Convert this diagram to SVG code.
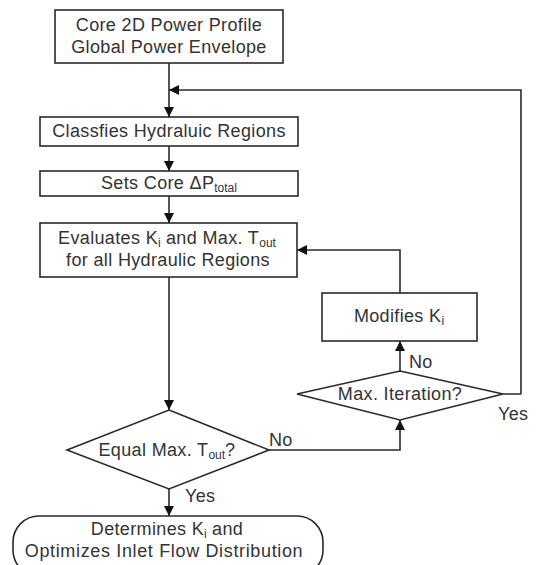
<svg xmlns="http://www.w3.org/2000/svg" width="545" height="565" viewBox="0 0 545 565">
<defs>
<marker id="ah" viewBox="0 0 10 10" refX="10" refY="5" markerWidth="10" markerHeight="10" markerUnits="userSpaceOnUse" orient="auto">
<path d="M0,0 L10,5 L0,10 Z" fill="#111"/>
</marker>
<style>
.box{fill:#fff;stroke:#2a2a2a;stroke-width:1.6}
.ln{fill:none;stroke:#2a2a2a;stroke-width:1.6}
text{font-family:"Liberation Sans",Arial,sans-serif;font-size:18px;fill:#333;letter-spacing:0.35px}
.c{text-anchor:middle}
.sub{font-size:12px;letter-spacing:0}
.wide{letter-spacing:0.65px}
</style>
</defs>
<rect width="545" height="565" fill="#fff"/>
<g id="connectors">
<path class="ln" d="M169,63 V117" marker-end="url(#ah)"/>
<path class="ln" d="M521,394 H503 M521,394 V90 H169" marker-end="url(#ah)"/>
<path class="ln" d="M169,146 V171" marker-end="url(#ah)"/>
<path class="ln" d="M169,196 V223" marker-end="url(#ah)"/>
<path class="ln" d="M169,277 V410" marker-end="url(#ah)"/>
<path class="ln" d="M269,450 H400 V420" marker-end="url(#ah)"/>
<path class="ln" d="M400,371 V341" marker-end="url(#ah)"/>
<path class="ln" d="M400,293 V250 H297" marker-end="url(#ah)"/>
<path class="ln" d="M169,489 V516" marker-end="url(#ah)"/>
</g>
<g id="n1">
<rect class="box" x="55" y="10" width="228" height="53"/>
<text class="c" x="169" y="31">Core 2D Power Profile</text>
<text class="c" x="169" y="53">Global Power Envelope</text>
</g>
<g id="n2">
<rect class="box" x="40" y="117" width="258" height="29"/>
<text class="c" x="169" y="137">Classfies Hydraluic Regions</text>
</g>
<g id="n3">
<rect class="box" x="40" y="171" width="258" height="25"/>
<text class="c" x="169" y="189">Sets Core ΔP<tspan class="sub" dy="3">total</tspan></text>
</g>
<g id="n4">
<rect class="box" x="40" y="223" width="257" height="54"/>
<text class="c" x="167" y="244">Evaluates K<tspan class="sub" dy="3">i</tspan><tspan dy="-3"> and Max. T</tspan><tspan class="sub" dy="3">out</tspan></text>
<text class="c" x="168" y="266">for all Hydraulic Regions</text>
</g>
<g id="n5">
<rect class="box" x="322" y="293" width="155" height="48"/>
<text class="c" x="399" y="322">Modifies K<tspan class="sub" dy="3">i</tspan></text>
</g>
<g id="n6">
<path class="box" d="M400,371 L503,394 L400,420 L297,394 Z"/>
<text class="c" x="400" y="400">Max. Iteration?</text>
</g>
<g id="n7">
<path class="box" d="M169,410 L269,450 L169,489 L67,450 Z"/>
<text class="c" x="167" y="456">Equal Max. T<tspan class="sub" dy="3">out</tspan><tspan dy="-3">?</tspan></text>
</g>
<g id="n8">
<rect class="box" x="13" y="516" width="310" height="60" rx="26" ry="26"/>
<text class="c" x="167" y="535">Determines K<tspan class="sub" dy="3">i</tspan><tspan dy="-3"> and</tspan></text>
<text class="c wide" x="164" y="557">Optimizes Inlet Flow Distribution</text>
</g>
<g id="labels">
<text x="269" y="446">No</text>
<text x="409" y="368">No</text>
<text x="498" y="420">Yes</text>
<text x="185" y="502">Yes</text>
</g>
</svg>
